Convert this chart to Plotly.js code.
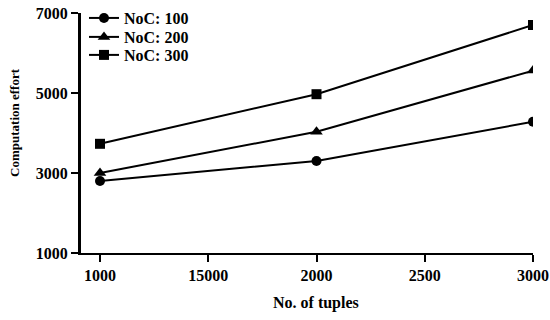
<!DOCTYPE html>
<html><head><meta charset="utf-8">
<script src="https://cdn.plot.ly/plotly-3.0.1.min.js"></script>
<style>body{margin:0;background:#fff}#c{width:550px;height:320px}</style>
</head><body><div id="c"></div>
<script>
var xVals = [1000, 2000, 3000];
var tickVals = [1000, 1500, 2000, 2500, 3000];
var tickLabels = ["1000", "15000", "2000", "2500", "3000"];
var yTickVals = [1000, 3000, 5000, 7000];
var yTickLabels = ["1000", "3000", "5000", "7000"];
var seriesNames = ["NoC: 100", "NoC: 200", "NoC: 300"];
var noc100 = [2800, 3300, 4280];
var noc200 = [3000, 4030, 5560];
var noc300 = [3730, 4970, 6700];
var xTitle = "No. of tuples";
var yTitle = "Computation effort";
var symbols = ["circle", "triangle-up", "square"];
var legendIds = ["legend", "legend2", "legend3"];
var data = [noc100, noc200, noc300].map(function(v, i){
  return {x: xVals, y: v, name: seriesNames[i], type: 'scatter', mode: 'lines+markers',
    legend: legendIds[i],
    line: {color: '#000', width: 2},
    marker: {symbol: symbols[i], size: i===1 ? 11 : 10, color: '#000'}};
});
var fam = 'Liberation Serif, Times New Roman, serif';
var tf = {family: fam, size: 16, color: '#000', weight: 'bold'};
var ytf = {family: fam, size: 13, color: '#000', weight: 'bold'};
function leg(y){
  return {x: 0.0088, y: y, xanchor: 'left', yanchor: 'middle', bgcolor: 'rgba(0,0,0,0)',
    font: {family: fam, size: 16, color: '#000', weight: 'bold'}, itemwidth: 30};
}
var layout = {
  width: 550, height: 320,
  margin: {l: 80, r: 17, t: 13, b: 67, autoexpand: false},
  paper_bgcolor: '#fff', plot_bgcolor: '#fff',
  font: tf,
  showlegend: true,
  legend: leg(0.979), legend2: leg(0.9), legend3: leg(0.825),
  xaxis: {range: [907.6, 3000], tickmode: 'array', tickvals: tickVals, ticktext: tickLabels,
    showgrid: false, zeroline: false, showline: true, linecolor: '#000', linewidth: 2,
    ticks: 'outside', ticklen: 7, tickwidth: 2, tickcolor: '#000',
    tickfont: tf, automargin: false},
  yaxis: {range: [1000, 7000], tickmode: 'array', tickvals: yTickVals, ticktext: yTickLabels,
    showgrid: false, zeroline: false, showline: true, linecolor: '#000', linewidth: 2,
    ticks: 'outside', ticklen: 7, tickwidth: 2, tickcolor: '#000',
    tickfont: tf, automargin: false},
  annotations: [
    {text: xTitle, xref: 'paper', yref: 'paper', x: 0.521, y: -0.208, xanchor: 'center', yanchor: 'middle',
      showarrow: false, font: tf},
    {text: yTitle, xref: 'paper', yref: 'paper', x: -0.1435, y: 0.546, xanchor: 'center', yanchor: 'middle',
      textangle: -90, showarrow: false, font: ytf}
  ],
  shapes: [
    {type: 'line', xref: 'paper', yref: 'paper', x0: -9/453, x1: 0, y0: 0, y1: 0,
      line: {color: '#000', width: 2}},
    {type: 'line', xref: 'paper', yref: 'paper', x0: 0, x1: 0, y0: 0, y1: 1,
      line: {color: '#000', width: 2}}
  ]
};
Plotly.newPlot('c', data, layout, {staticPlot: true, displayModeBar: false});
</script></body></html>
